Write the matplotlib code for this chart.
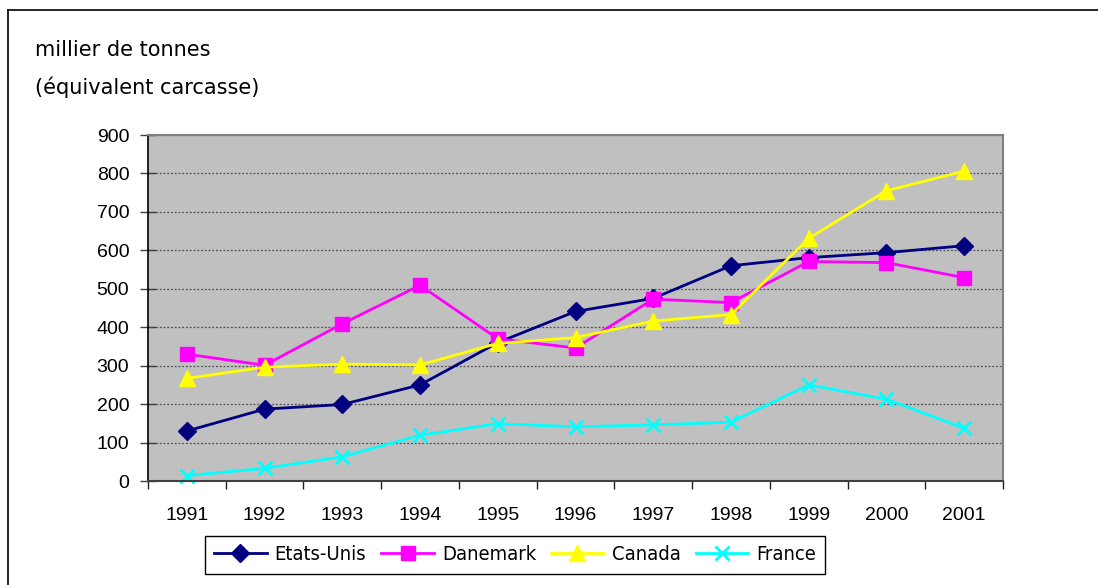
import matplotlib
matplotlib.use("Agg")
import matplotlib.pyplot as plt
from matplotlib.lines import Line2D
from matplotlib.ticker import FixedLocator, NullFormatter

years = ["1991", "1992", "1993", "1994", "1995", "1996", "1997", "1998", "1999", "2000", "2001"]
etats_unis = [130, 187, 199, 250, 360, 441, 475, 560, 581, 594, 612]
danemark = [330, 301, 409, 509, 370, 346, 473, 464, 571, 568, 529]
canada = [267, 296, 304, 302, 358, 373, 416, 433, 631, 755, 806]
france = [14, 33, 63, 119, 149, 141, 146, 153, 250, 213, 137]
y_ticks = [0, 100, 200, 300, 400, 500, 600, 700, 800, 900]

W, H = 1098, 585
fig = plt.figure(figsize=(W / 100, H / 100), dpi=100)
fig.patch.set_facecolor("white")

ax = fig.add_axes([148 / W, 1 - 481 / H, (1003 - 148) / W, (481 - 135) / H])
ax.set_facecolor("#C0C0C0")

x = list(range(len(years)))
series = [
    ("Etats-Unis", etats_unis, "#000080", "D", 9.5),
    ("Danemark", danemark, "#FF00FF", "s", 9.5),
    ("Canada", canada, "#FFFF00", "^", 11.5),
    ("France", france, "#00FFFF", "x", 10),
]
for name, vals, col, mk, ms in series:
    kw = dict(color=col, lw=2, marker=mk, markersize=ms, label=name, clip_on=False)
    if mk == "x":
        kw["markeredgewidth"] = 2
    else:
        kw["markeredgecolor"] = col
    ax.plot(x, vals, **kw)

ax.set_xlim(-0.5, len(years) - 0.5)
ax.set_ylim(0, 900)
ax.set_yticks(y_ticks)
ax.set_yticklabels([str(v) for v in y_ticks], fontsize=14, family="Liberation Sans")
ax.tick_params(axis="y", direction="inout", length=11, width=1, color="#404040", pad=8)

# category labels at centers, tick marks at boundaries
ax.set_xticks(x)
ax.set_xticklabels(years, fontsize=14, family="Liberation Sans")
ax.tick_params(axis="x", which="major", length=0, pad=19)
ax.xaxis.set_minor_locator(FixedLocator([i - 0.5 for i in range(len(years) + 1)]))
ax.xaxis.set_minor_formatter(NullFormatter())
ax.tick_params(axis="x", which="minor", direction="out", length=6, width=1, color="#202020")

ax.yaxis.grid(True, linestyle=(0, (1.5, 1.5)), color="#505050", linewidth=0.9)
ax.set_axisbelow(True)

ax.spines["left"].set_color("black")
ax.spines["left"].set_linewidth(1.2)
ax.spines["bottom"].set_color("#404040")
ax.spines["bottom"].set_linewidth(1.5)
ax.spines["top"].set_color("#808080")
ax.spines["top"].set_linewidth(1.5)
ax.spines["right"].set_color("#808080")
ax.spines["right"].set_linewidth(1.5)

fig.text(35 / W, 1 - 50 / H, "millier de tonnes", fontsize=15, family="DejaVu Sans",
         ha="left", va="center")
fig.text(35 / W, 1 - 87 / H, "(équivalent carcasse)", fontsize=15, family="DejaVu Sans",
         ha="left", va="center")

leg = fig.legend(loc="center", bbox_to_anchor=(515 / W, 1 - 555 / H), ncol=4,
                 frameon=True, fancybox=False, edgecolor="black", framealpha=1,
                 prop={"family": "DejaVu Sans", "size": 14.5, "stretch": "condensed"},
                 handlelength=2.6, columnspacing=0.75, handletextpad=0.4,
                 borderpad=0.45, borderaxespad=0)
leg.get_frame().set_linewidth(1)

# outer chart frame (extends past right/bottom edges)
fig.add_artist(Line2D([8 / W, 1.0], [1 - 10 / H, 1 - 10 / H], color="black", lw=1.2,
                      transform=fig.transFigure))
fig.add_artist(Line2D([8 / W, 8 / W], [1 - 10 / H, 0.0], color="black", lw=1.2,
                      transform=fig.transFigure))

fig.savefig("out.png", dpi=100)
